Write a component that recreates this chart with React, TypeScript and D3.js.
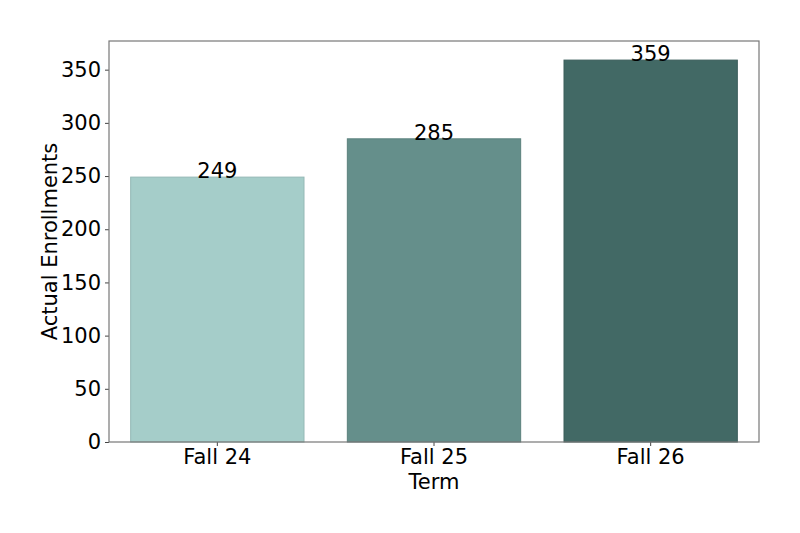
import React, { useEffect, useRef } from "react";
import * as d3 from "d3";

const terms = ["Fall 24", "Fall 25", "Fall 26"];
const enrollments = [249, 285, 359];
const barColors = ["#a5cdc9", "#658f8b", "#426965"];
const yTicks = [0, 50, 100, 150, 200, 250, 300, 350];

const App: React.FC = () => {
  const svgRef = useRef<SVGSVGElement | null>(null);

  useEffect(() => {
    if (!svgRef.current) return;
    const svg = d3.select(svgRef.current);
    svg.selectAll("*").remove();

    const margin = { top: 41, right: 41, bottom: 91, left: 109 };
    const width = 800 - margin.left - margin.right;
    const height = 533 - margin.top - margin.bottom;
    const font = "DejaVu Sans, sans-serif";
    const fs = "21px";

    const x = d3
      .scaleBand<string>()
      .domain(terms)
      .range([0, width])
      .paddingInner(0.2)
      .paddingOuter(0.1);

    const y = d3
      .scaleLinear()
      .domain([0, d3.max(enrollments)! * 1.05])
      .range([height, 0]);

    const g = svg
      .append("g")
      .attr("transform", `translate(${margin.left},${margin.top})`);

    // bars
    g.selectAll(".bar")
      .data(enrollments)
      .enter()
      .append("rect")
      .attr("class", "bar")
      .attr("x", (_, i) => x(terms[i])!)
      .attr("y", (d) => y(d))
      .attr("width", x.bandwidth())
      .attr("height", (d) => height - y(d))
      .attr("fill", (_, i) => barColors[i])
      .attr("stroke", (_, i) => d3.color(barColors[i])!.darker(0.3).toString())
      .attr("stroke-width", 1);

    // value labels
    g.selectAll(".val")
      .data(enrollments)
      .enter()
      .append("text")
      .attr("class", "val")
      .attr("x", (_, i) => x(terms[i])! + x.bandwidth() / 2)
      .attr("y", (d) => y(d) + 1)
      .attr("text-anchor", "middle")
      .style("font-family", font)
      .style("font-size", fs)
      .text((d) => d);

    // axes
    const yAxis = g
      .append("g")
      .call(d3.axisLeft(y).tickValues(yTicks).tickSize(4).tickPadding(4));
    const xAxis = g
      .append("g")
      .attr("transform", `translate(0,${height})`)
      .call(d3.axisBottom(x).tickSize(4).tickPadding(3));

    [xAxis, yAxis].forEach((a) => {
      a.select(".domain").remove();
      a.selectAll(".tick line").attr("stroke", "#444").attr("stroke-width", 1);
      a.selectAll(".tick text")
        .style("font-family", font)
        .style("font-size", fs)
        .attr("fill", "#000");
    });

    // frame
    g.append("rect")
      .attr("x", 0)
      .attr("y", 0)
      .attr("width", width)
      .attr("height", height)
      .attr("fill", "none")
      .attr("stroke", "#777")
      .attr("stroke-width", 1.2);

    // axis titles
    g.append("text")
      .attr("x", width / 2)
      .attr("y", height + 47)
      .attr("text-anchor", "middle")
      .style("font-family", font)
      .style("font-size", fs)
      .text("Term");

    g.append("text")
      .attr("transform", "rotate(-90)")
      .attr("x", -height / 2)
      .attr("y", -52)
      .attr("text-anchor", "middle")
      .style("font-family", font)
      .style("font-size", fs)
      .text("Actual Enrollments");
  }, []);

  return (
    <svg
      ref={svgRef}
      width={800}
      height={533}
      style={{ position: "absolute", top: 0, left: 0, background: "#fff" }}
    />
  );
};

export default App;
